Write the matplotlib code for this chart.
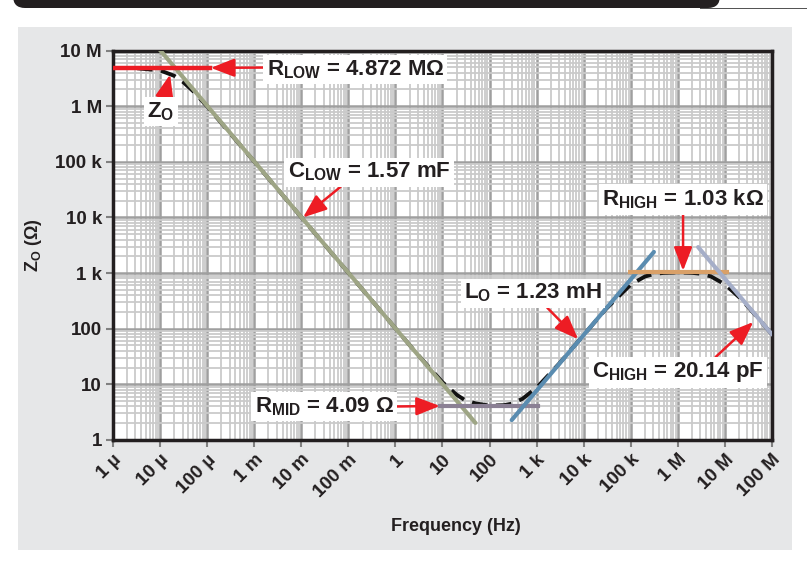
import matplotlib
matplotlib.use("Agg")
import matplotlib.pyplot as plt
from matplotlib.patches import Rectangle, FancyBboxPatch
from matplotlib.transforms import IdentityTransform
from matplotlib.ticker import LogLocator, FixedLocator, NullFormatter

freq_zo = [1e-6, 3e-6, 1e-5, 2e-5, 3e-5, 5e-5, 1e-4, 1e-3, 1e-2, 1e-1, 1, 3, 10, 20, 30,
           50, 100, 200, 300, 500, 1e3, 3e3, 1e4, 3e4, 1e5, 2e5, 3e5, 5e5, 1e6, 2e6,
           3e6, 5e6, 1e7, 2e7, 3e7, 5e7, 1e8]
z_zo = [4.86e6, 4.82e6, 4.39e6, 3.51e6, 2.77e6, 1.87e6, 9.9e5, 1.01e5, 1.01e4, 1.01e3,
        101.5, 34.0, 10.9, 6.5, 5.2, 4.55, 4.15, 4.22, 4.5, 5.5, 8.7, 23.5, 77.4, 228,
        622, 867, 955, 1010, 1030, 1011, 973, 873, 627, 369, 255, 156, 79]

# fitted asymptotes (end points)
r_low_f = [1e-6, 1.15e-4]
r_low_z = [4.872e6, 4.872e6]
c_low_f = [9e-6, 50]
c_low_z = [1.13e7, 2.03]
r_mid_f = [9, 1050]
r_mid_z = [4.09, 4.09]
l_o_f = [295, 3.1e5]
l_o_z = [2.28, 2396]
r_high_f = [9.6e4, 1.1e7]
r_high_z = [1030, 1030]
c_high_f = [2.7e6, 1e8]
c_high_z = [2927, 79]

x_ticks = [1e-6, 1e-5, 1e-4, 1e-3, 1e-2, 1e-1, 1, 10, 100, 1e3, 1e4, 1e5, 1e6, 1e7, 1e8]
x_labels = ['1 µ', '10 µ', '100 µ', '1 m', '10 m', '100 m', '1', '10', '100',
            '1 k', '10 k', '100 k', '1 M', '10 M', '100 M']
y_ticks = [1, 10, 100, 1e3, 1e4, 1e5, 1e6, 1e7]
y_labels = ['1', '10', '100', '1 k', '10 k', '100 k', '1 M', '10 M']

plt.rcParams['font.family'] = ['Liberation Sans', 'DejaVu Sans']
plt.rcParams['mathtext.fontset'] = 'custom'
plt.rcParams['mathtext.rm'] = 'Liberation Sans:bold'
plt.rcParams['mathtext.it'] = 'Liberation Sans:bold'
plt.rcParams['mathtext.bf'] = 'Liberation Sans:bold'

W, H = 807, 565
fig = plt.figure(figsize=(W / 100, H / 100), dpi=100, facecolor='white')

# gray panel + dark header bar
fig.patches.append(Rectangle((18 / W, 1 - 550 / H), (792 - 18) / W, (550 - 27) / H,
                             transform=fig.transFigure, facecolor='#e6e7e8',
                             edgecolor='none', zorder=-5))
fig.patches.append(FancyBboxPatch((13, H - 8), 707, 30, boxstyle='round,pad=0,rounding_size=12',
                                  transform=IdentityTransform(), facecolor='#231f20',
                                  edgecolor='none', zorder=-4))
fig.patches.append(Rectangle((700, H - 9), 107, 1.5, transform=IdentityTransform(),
                             facecolor='#555555', edgecolor='none', zorder=-4))

ax = fig.add_axes([113 / W, 1 - 440 / H, (772 - 113) / W, (440 - 50.5) / H])
ax.set_xscale('log')
ax.set_yscale('log')
ax.set_xlim(1e-6, 1e8)
ax.set_ylim(1, 1e7)

ax.xaxis.set_major_locator(FixedLocator(x_ticks))
ax.yaxis.set_major_locator(FixedLocator(y_ticks))
ax.xaxis.set_minor_locator(LogLocator(base=10, subs=range(2, 10), numticks=100))
ax.yaxis.set_minor_locator(LogLocator(base=10, subs=range(2, 10), numticks=100))
ax.xaxis.set_minor_formatter(NullFormatter())
ax.yaxis.set_minor_formatter(NullFormatter())
ax.set_xticklabels(x_labels, rotation=45, ha='right', va='top', rotation_mode='anchor',
                   fontsize=13.5, fontweight='bold', color='#231f20')
ax.set_yticklabels(y_labels, fontsize=13.5, fontweight='bold', color='#231f20')
ax.tick_params(which='major', length=5, width=1.5, color='#808080', pad=3)
ax.tick_params(which='minor', length=0)

ax.set_axisbelow(True)
ax.grid(which='major', color='#9f9f9f', linewidth=1.8)
ax.grid(which='minor', color='#cacaca', linewidth=1.3)
for s in ax.spines.values():
    s.set_linewidth(2.5)
    s.set_color('#231f20')

lw = 3.0
ax.plot(freq_zo, z_zo, color='#111111', lw=2.8, dashes=(4, 2.2), zorder=3)
ax.plot(c_low_f, c_low_z, color='#9ea585', lw=lw, solid_capstyle='round', zorder=4)
ax.plot(r_mid_f, r_mid_z, color='#8b8094', lw=lw, zorder=4)
ax.plot(l_o_f, l_o_z, color='#5a8cb0', lw=lw, solid_capstyle='round', zorder=4)
ax.plot(r_high_f, r_high_z, color='#d9a068', lw=lw, zorder=4)
ax.plot(c_high_f, c_high_z, color='#a5aec8', lw=lw, solid_capstyle='round', zorder=4)
ax.plot(r_low_f, r_low_z, color='#ed1c24', lw=3.2, zorder=5)

red = '#ed1c24'
box = dict(boxstyle='square,pad=0.15', facecolor='white', edgecolor='none')


def note(text, tip, pos, rel=(0.5, 0.5)):
    ax.annotate(text, xy=tip, xytext=pos, ha='center', va='center', fontsize=16,
                fontweight='bold', color='#231f20', bbox=box, zorder=6,
                arrowprops=dict(arrowstyle='-|>,head_length=0.9,head_width=0.35', color=red,
                                lw=1.8, relpos=rel, shrinkA=0, shrinkB=0))


note(r'R$_{\mathrm{LOW}}$ = 4.872 MΩ', (1.2e-4, 4.872e6), (0.14, 4.5e6), rel=(0, 0.6))
note(r'Z$_{\mathrm{O}}$', (1.63e-5, 3.7e6), (1.05e-5, 8.0e5), rel=(0.6, 1))
note(r'C$_{\mathrm{LOW}}$ = 1.57 mF', (0.0109, 1.0e4), (0.275, 6.5e4), rel=(0.35, 0))
note(r'R$_{\mathrm{HIGH}}$ = 1.03 kΩ', (1.29e6, 1100), (1.29e6, 2.1e4), rel=(0.5, 0))
note(r'L$_{\mathrm{O}}$ = 1.23 mH', (7.6e3, 65), (838, 435), rel=(0.58, 0))
note(r'C$_{\mathrm{HIGH}}$ = 20.14 pF', (4.0e7, 132), (1e6, 16.5), rel=(0.7, 1))
note(r'R$_{\mathrm{MID}}$ = 4.09 Ω', (8.8, 4.09), (0.0305, 4.0), rel=(1, 0.5))

ax.set_xlabel('Frequency (Hz)', fontsize=13, fontweight='bold', color='#231f20', labelpad=12)
ax.xaxis.set_label_coords(0.52, -0.2)
ax.set_ylabel(r'Z$_{\mathrm{O}}$ (Ω)', fontsize=13, fontweight='bold', color='#231f20', labelpad=8)

fig.savefig('out.png', dpi=100, facecolor='white')
